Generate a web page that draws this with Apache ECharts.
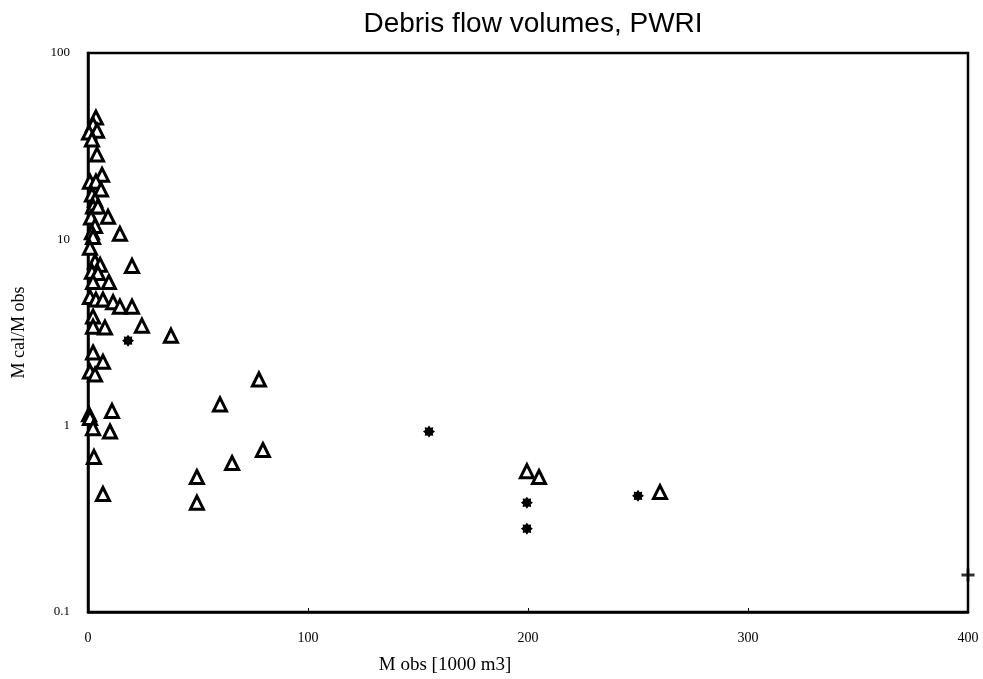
<!DOCTYPE html>
<html><head><meta charset="utf-8">
<script src="https://cdn.jsdelivr.net/npm/echarts@6/dist/echarts.min.js"></script>
<style>html,body{margin:0;padding:0;background:#fff}#c{width:983px;height:679px}</style>
</head><body><div id="c"></div>
<script>
// M obs [1000 m3] and M cal/M obs for triangles
const triX = [3.6,2.3,4.1,0.5,1.8,4.1,6.4,0.9,3.6,5.9,1.8,3.2,2.3,4.5,9.1,1.4,3.2,1.8,14.5,2.3,0.9,3.2,5.5,20,1.8,4.5,9.5,2.3,0.9,3.6,6.8,11.4,14.5,20,2.3,2.3,7.7,24.5,37.7,2.3,6.8,0.9,3.2,77.7,60,10.9,0.5,0.9,2.3,10,2.7,6.8,49.5,49.5,65.5,79.5,199.5,205,260];
const triY = [45,41.3,38.3,37.4,34.3,28.5,22.2,20.4,20.4,18.5,17.4,16.3,15,15,13.2,13.1,11.8,10.9,10.7,10.3,9.0,7.6,7.3,7.2,6.7,6.6,5.9,5.9,4.9,4.75,4.75,4.6,4.35,4.35,3.85,3.4,3.36,3.44,3.04,2.47,2.2,1.95,1.88,1.77,1.30,1.20,1.15,1.1,0.97,0.93,0.68,0.43,0.53,0.386,0.63,0.74,0.57,0.53,0.44];
// star markers
const starX = [18.2,155,199.5,199.5,250];
const starY = [2.86,0.93,0.386,0.28,0.42];
// plus marker
const plusX = [400];
const plusY = [0.158];
const yTicks = [0.1,1,10,100];
const xTicks = [0,100,200,300,400];

function starPath(){
  let p=[];
  for(let i=0;i<16;i++){
    const a=i*Math.PI/8, r=(i%2===0)?10:7;
    p.push((i===0?'M':'L')+(r*Math.cos(a)).toFixed(2)+' '+(r*Math.sin(a)).toFixed(2));
  }
  return 'path://'+p.join(' ')+'Z';
}
const zip=(a,b)=>a.map((v,i)=>[v,b[i]]);
const chart = echarts.init(document.getElementById('c'));
chart.setOption({
  animation:false,
  backgroundColor:'#fff',
  title:{text:'Debris flow volumes, PWRI',left:528,textAlign:'center',top:5,
    textStyle:{fontFamily:'Liberation Sans',fontSize:28,fontWeight:'normal',color:'#000'}},
  grid:{left:88,right:15,top:53,bottom:67,outerBoundsMode:'none',containLabel:false,show:true,borderColor:'#000',borderWidth:2.5,backgroundColor:'transparent'},
  xAxis:{type:'value',min:0,max:400,interval:100,
    name:'M obs [1000 m3]',nameLocation:'middle',nameGap:44,
    nameTextStyle:{fontFamily:'Liberation Serif',fontSize:19,color:'#000',padding:[0,166,0,0]},
    axisLine:{show:true,lineStyle:{color:'#000',width:2.5}},
    axisTick:{show:true,inside:true,length:4,lineStyle:{color:'#000'}},
    splitLine:{show:false},
    axisLabel:{fontFamily:'Liberation Serif',fontSize:14,color:'#000',margin:19,
      formatter:v=>xTicks.includes(v)?String(v):''}},
  yAxis:{type:'log',logBase:10,min:0.1,max:100,
    name:'M cal/M obs',nameLocation:'middle',nameGap:60,
    nameTextStyle:{fontFamily:'Liberation Serif',fontSize:18,color:'#000'},
    axisLine:{show:true,lineStyle:{color:'#000',width:2.5}},
    axisTick:{show:false},splitLine:{show:false},minorTick:{show:false},
    axisLabel:{fontFamily:'Liberation Serif',fontSize:13,color:'#000',margin:18,
      formatter:v=>{const t=yTicks.find(k=>Math.abs(k-v)/k<1e-6);return t===undefined?'':String(t);}}},
  series:[
    {type:'scatter',data:zip(triX,triY),symbol:'triangle',symbolSize:[13,13],clip:false,
      itemStyle:{color:'#fff',borderColor:'#000',borderWidth:3,opacity:1}},
    {type:'scatter',data:zip(starX,starY),symbol:starPath(),symbolSize:12,clip:false,
      itemStyle:{color:'#000',opacity:1}},
    {type:'scatter',data:zip(plusX,plusY),symbol:'path://M-1.5 -7 L1.5 -7 L1.5 -1.5 L7 -1.5 L7 1.5 L1.5 1.5 L1.5 7 L-1.5 7 L-1.5 1.5 L-7 1.5 L-7 -1.5 L-1.5 -1.5Z',symbolSize:13,clip:false,
      itemStyle:{color:'#000'}}
  ]
});
</script></body></html>
